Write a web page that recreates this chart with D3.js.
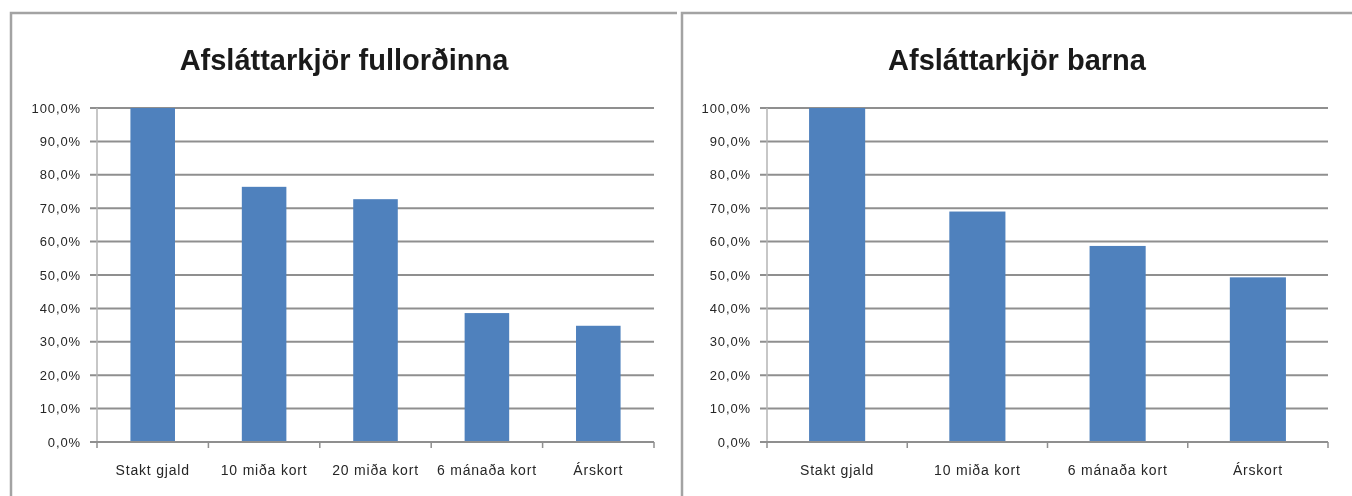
<!DOCTYPE html>
<html>
<head>
<meta charset="utf-8">
<script src="https://cdn.jsdelivr.net/npm/d3@7"></script>
<style>
  html, body { margin: 0; padding: 0; background: #fff; }
  svg { display: block; filter: blur(0.45px); }
</style>
</head>
<body>
<svg id="chart" width="1352" height="496"></svg>
<script>
// ---- data ----
const adultTitle = "Afsláttarkjör fullorðinna";
const adultCategories = ["Stakt gjald", "10 miða kort", "20 miða kort", "6 mánaða kort", "Árskort"];
const adultValues = [100, 76.4, 72.7, 38.6, 34.8];

const childTitle = "Afsláttarkjör barna";
const childCategories = ["Stakt gjald", "10 miða kort", "6 mánaða kort", "Árskort"];
const childValues = [100, 69.0, 58.7, 49.3];

const yTicks = [0, 10, 20, 30, 40, 50, 60, 70, 80, 90, 100];

// ---- styles ----
const BAR = "#4f81bd";
const GRID = "#8f8f8f";
const BORDER = "#a3a3a3";
const TEXT = "#262626";
const FONT = "'Liberation Sans Narrow', 'Arial Narrow', 'Liberation Sans', sans-serif";

const loc = d3.formatLocale({decimal: ",", thousands: ".", grouping: [3], currency: ["", " kr"]});
const fmt = v => loc.format(".1f")(v) + "%";

const svg = d3.select("#chart");

function panel(cfg) {
  const g = svg.append("g");
  // chart border (only top & left visible in crop)
  g.append("path")
    .attr("d", `M${cfg.bx},${cfg.bBottom} V${cfg.by} H${cfg.bRight}`)
    .attr("fill", "none").attr("stroke", BORDER).attr("stroke-width", 2.5);

  // title
  g.append("text")
    .attr("x", cfg.titleX).attr("y", cfg.titleY)
    .attr("text-anchor", "middle")
    .attr("font-family", FONT).attr("font-weight", "bold")
    .attr("font-size", 29).attr("fill", "#1a1a1a")
    .text(cfg.title);

  const x = d3.scaleBand().domain(cfg.categories)
    .range([cfg.x0, cfg.x1]).paddingInner(0.6).paddingOuter(0.3);
  const y = d3.scaleLinear().domain([0, 100]).range([cfg.y0, cfg.y1]);

  // gridlines (with left tick stubs)
  g.append("g").selectAll("line").data(yTicks.filter(t => t > 0)).join("line")
    .attr("x1", cfg.x0 - 7).attr("x2", cfg.x1)
    .attr("y1", d => y(d)).attr("y2", d => y(d))
    .attr("stroke", GRID).attr("stroke-width", 2);

  // y axis labels
  const ya = g.append("g").attr("transform", `translate(${cfg.x0},0)`)
    .call(d3.axisLeft(y).tickValues(yTicks).tickFormat(fmt).tickSize(0).tickPadding(16));
  ya.select(".domain").remove();
  ya.selectAll("text").attr("font-family", FONT).attr("font-size", 13)
    .attr("letter-spacing", "0.9px").attr("fill", TEXT);

  // y axis line
  g.append("line")
    .attr("x1", cfg.x0).attr("x2", cfg.x0)
    .attr("y1", y(100)).attr("y2", y(0))
    .attr("stroke", "#b5b5b5").attr("stroke-width", 1.5);

  // bars
  g.append("g").selectAll("rect").data(cfg.values).join("rect")
    .attr("x", (d, i) => x(cfg.categories[i]))
    .attr("width", x.bandwidth())
    .attr("y", d => y(d))
    .attr("height", d => y(0) - y(d))
    .attr("fill", BAR);

  // x axis baseline + boundary ticks
  g.append("line")
    .attr("x1", cfg.x0 - 7).attr("x2", cfg.x1)
    .attr("y1", y(0)).attr("y2", y(0))
    .attr("stroke", GRID).attr("stroke-width", 2);
  const bounds = d3.range(cfg.categories.length + 1).map(i => cfg.x0 + i * x.step());
  g.append("g").selectAll("line").data(bounds).join("line")
    .attr("x1", d => d).attr("x2", d => d)
    .attr("y1", y(0)).attr("y2", y(0) + 6)
    .attr("stroke", GRID).attr("stroke-width", 1.5);

  // x labels
  const xa = g.append("g").attr("transform", `translate(0,${y(0)})`)
    .call(d3.axisBottom(x).tickSize(0).tickPadding(23));
  xa.select(".domain").remove();
  xa.selectAll("text").attr("font-family", FONT).attr("font-size", 14)
    .attr("letter-spacing", "0.8px").attr("fill", TEXT);
}

panel({
  title: adultTitle, categories: adultCategories, values: adultValues,
  bx: 11, by: 13, bRight: 677, bBottom: 520,
  titleX: 344, titleY: 70,
  x0: 97, x1: 654, y0: 442, y1: 108
});
panel({
  title: childTitle, categories: childCategories, values: childValues,
  bx: 682, by: 13, bRight: 1360, bBottom: 520,
  titleX: 1017, titleY: 70,
  x0: 767, x1: 1328, y0: 442, y1: 108
});
</script>
</body>
</html>
